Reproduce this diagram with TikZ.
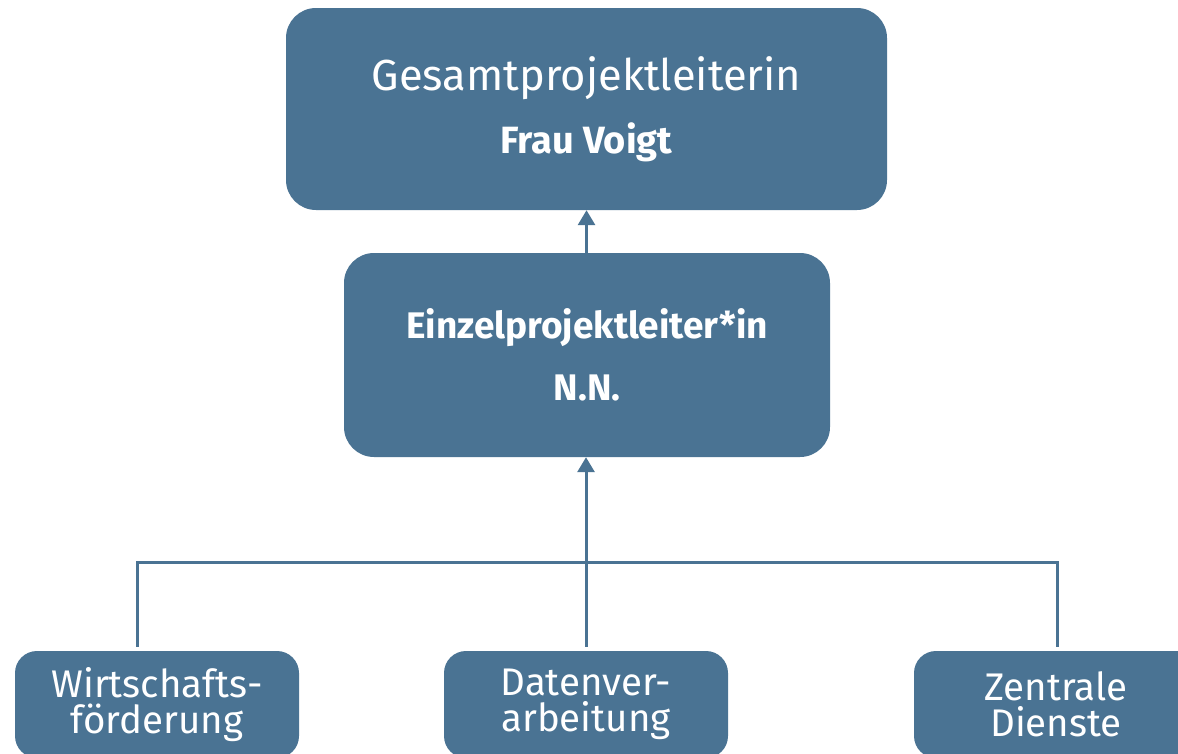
\documentclass[tikz,border=0pt]{standalone}
\usepackage{fontspec}
\setmainfont{Fira Sans}
\usetikzlibrary{arrows.meta}
\definecolor{box}{HTML}{4A7393}
\tikzset{
  bigbox/.style={draw=none, fill=box, rounded corners=30pt, text=white, align=center, inner sep=0pt},
  smallbox/.style={draw=none, fill=box, rounded corners=22pt, text=white, align=center, inner sep=0pt,
    minimum width=284pt, minimum height=107pt, font=\fontsize{38.5}{36}\selectfont},
  conn/.style={draw=box, line width=3pt},
  arr/.style={conn, -{Triangle[length=15pt,width=17pt]}}
}
\begin{document}
\begin{tikzpicture}[x=1pt,y=-1pt]
\useasboundingbox (0,0) rectangle (1178,753);
\clip (0,0) rectangle (1178,753);
\node[bigbox, minimum width=601pt, minimum height=202pt] (top) at (586.5,109)
  {\fontsize{43.5}{42}\selectfont Gesamtprojektleiterin\\[22pt]\fontsize{38}{32}\selectfont\bfseries Frau Voigt};
\node[bigbox, minimum width=486pt, minimum height=204pt] (mid) at (587,355)
  {\fontsize{37}{32}\selectfont\bfseries Einzelprojektleiter*in\\[27pt]\fontsize{37}{32}\selectfont\bfseries N.N.};
\node[smallbox] (wf) at (157,704.5) {Wirtschafts-\\förderung};
\node[smallbox] (dv) at (586,704.5) {Datenver-\\arbeitung};
\node[smallbox] (zd) at (1056,704.5) {Zentrale\\Dienste};
\coordinate (bus) at (586,562);
\draw[arr] (mid.north -| top.south) -- (top.south);
\draw[arr] ([yshift=4pt]dv.north) -- (mid.south -| dv.north);
\draw[conn] ([xshift=-20pt,yshift=4pt]wf.north) |- (bus) -| ([xshift=1pt,yshift=4pt]zd.north);
\end{tikzpicture}
\end{document}
